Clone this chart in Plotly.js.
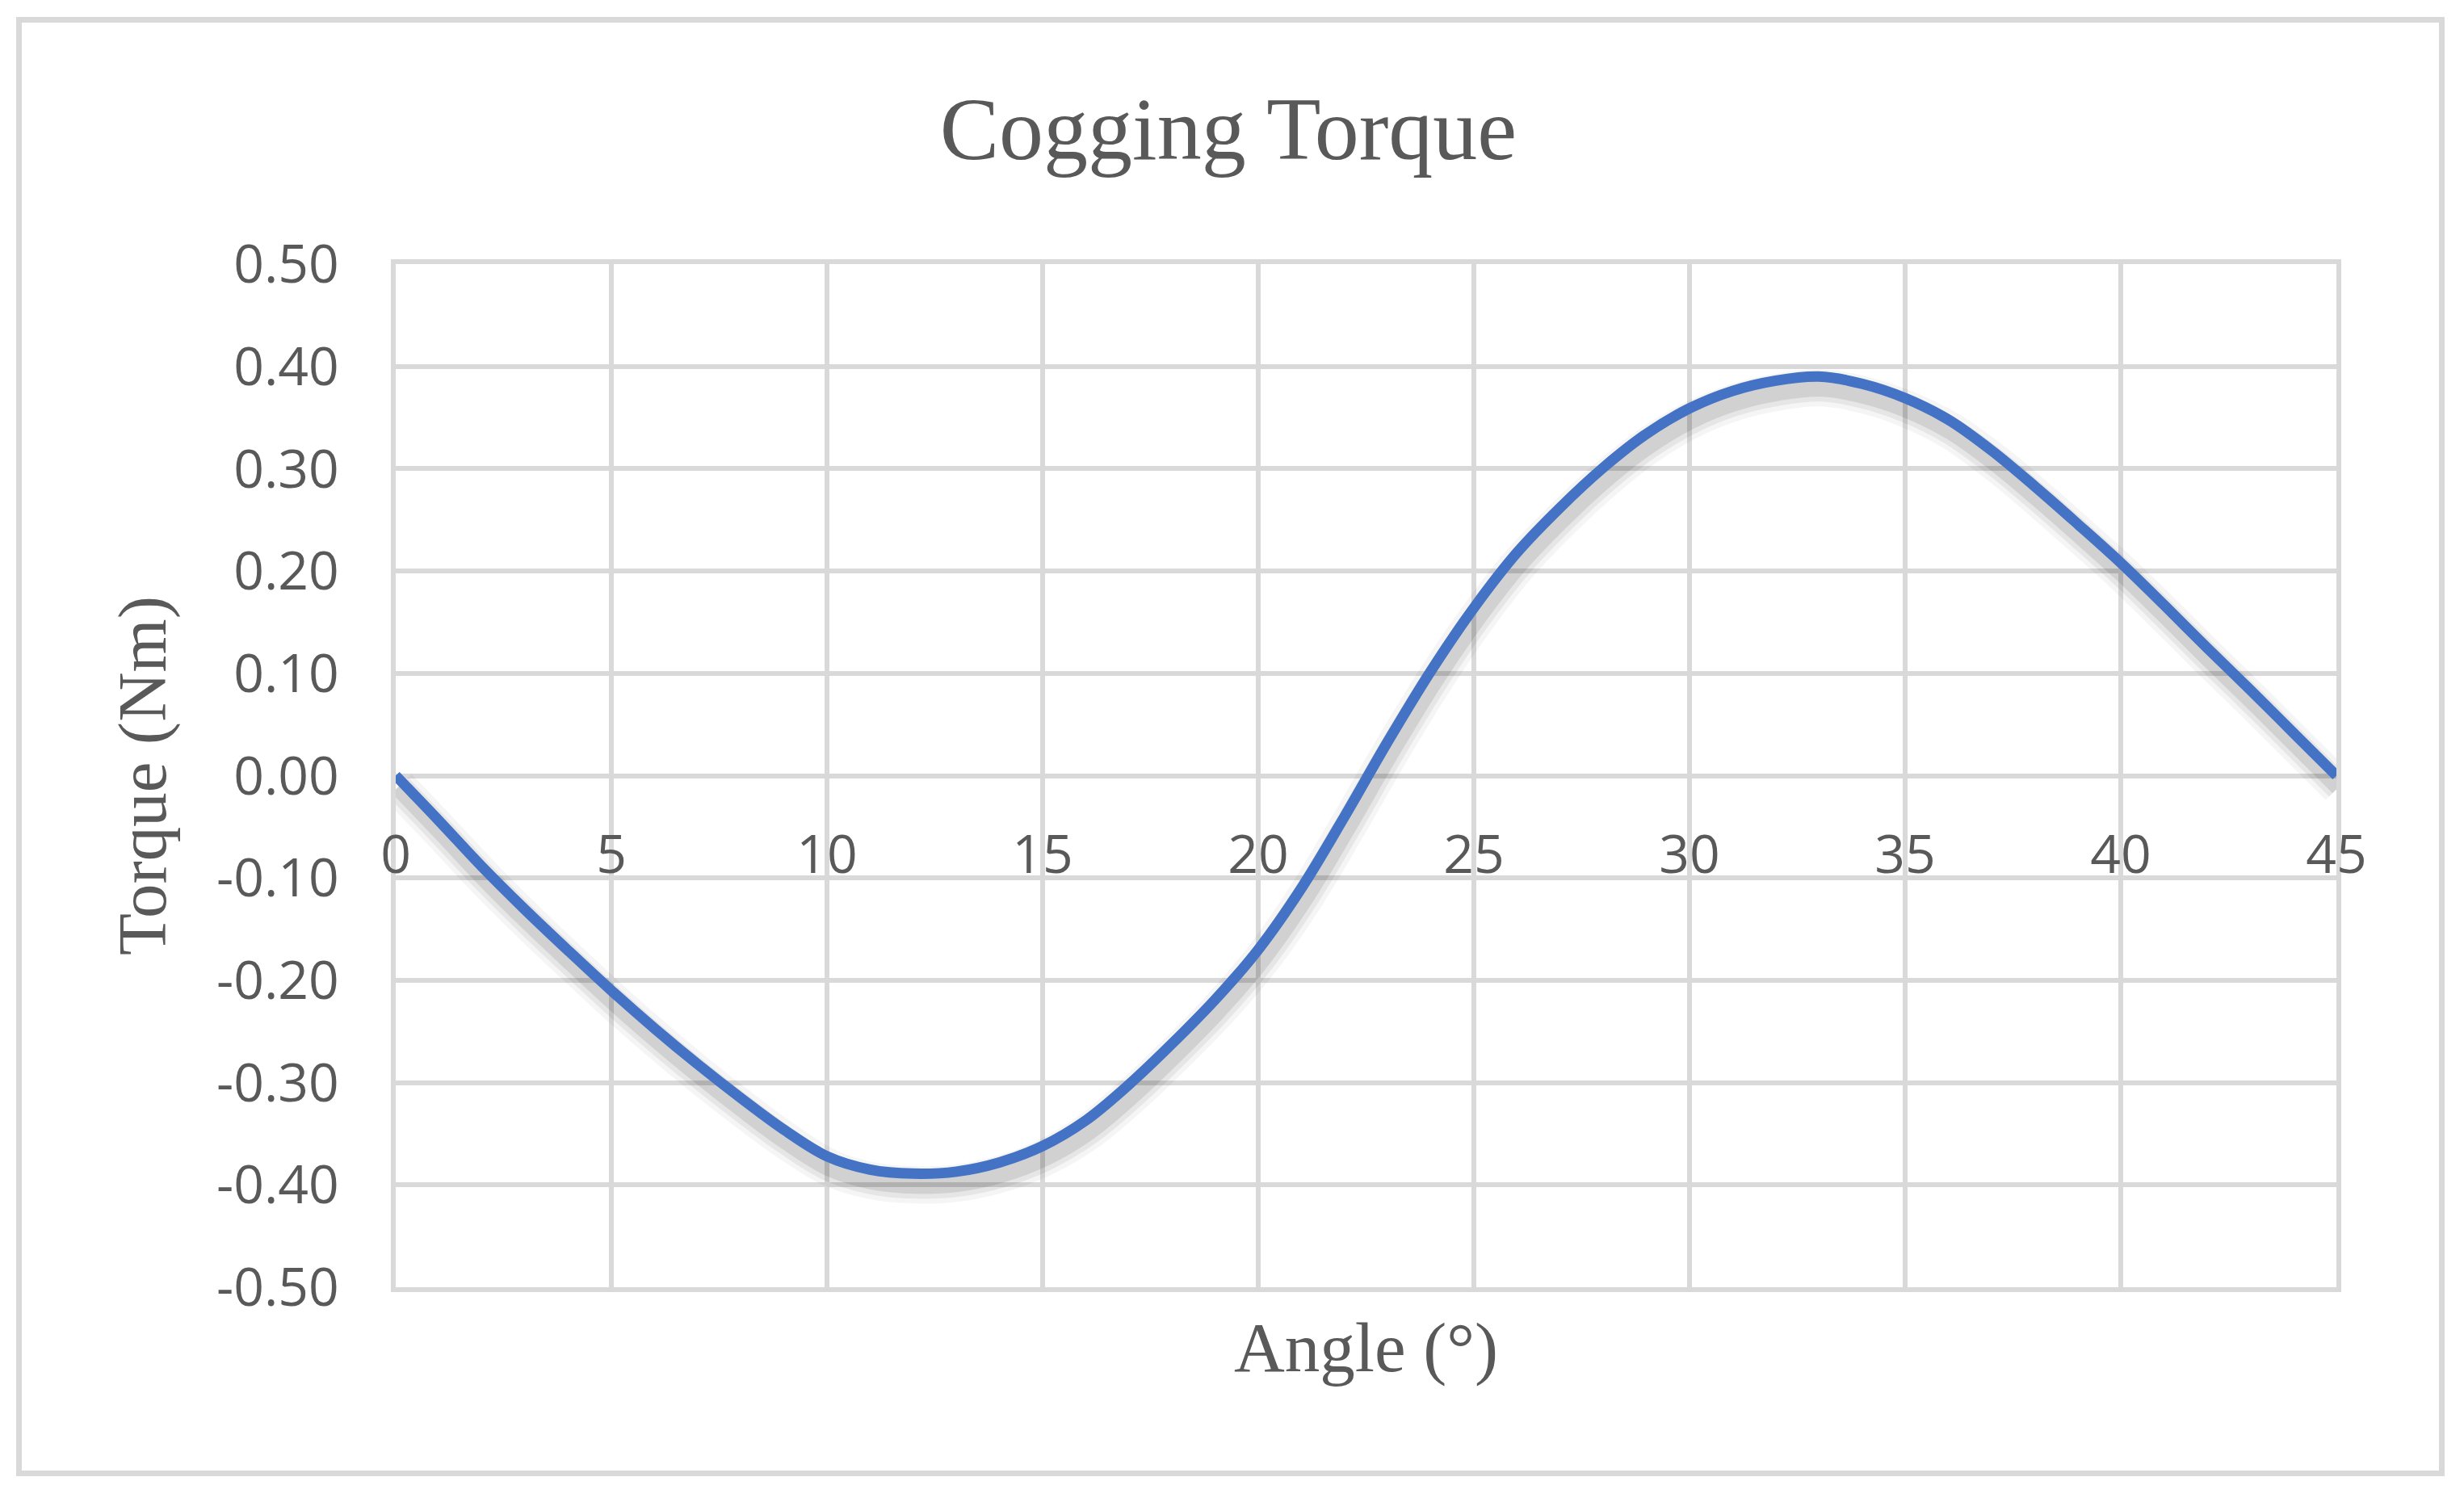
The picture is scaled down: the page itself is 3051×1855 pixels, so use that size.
<!DOCTYPE html>
<html>
<head>
<meta charset="utf-8">
<script src="https://cdn.plot.ly/plotly-3.0.1.min.js"></script>
<style>
  html, body { margin: 0; padding: 0; background: #ffffff; }
  #wrap { position: relative; width: 3051px; height: 1855px; }
  #chart { position: absolute; left: 0; top: 0; width: 3051px; height: 1855px; }
  #frame { position: absolute; left: 20px; top: 21px; width: 2993px; height: 1793px;
           border: 7px solid #d9d9d9; pointer-events: none; }
</style>
</head>
<body>
<div id="wrap">
  <div id="chart"></div>
  <div id="frame"></div>
</div>
<script>
// ---- data ----
const angleDeg = [0,1,2,3,4,5,6,7,8,9,10,11,12,13,14,15,16,17,18,19,20,21,22,23,24,25,26,27,28,29,30,31,32,33,34,35,36,37,38,39,40,41,42,43,44,45];
const torqueNm = [0.000,-0.044,-0.089,-0.131,-0.171,-0.210,-0.247,-0.282,-0.315,-0.346,-0.372,-0.385,-0.389,-0.387,-0.378,-0.362,-0.337,-0.302,-0.262,-0.219,-0.170,-0.110,-0.040,0.033,0.102,0.164,0.218,0.262,0.301,0.334,0.359,0.376,0.386,0.390,0.383,0.369,0.348,0.318,0.283,0.246,0.208,0.167,0.125,0.084,0.042,0.000];
const xTicks = [0,5,10,15,20,25,30,35,40,45];
const yTicks = [-0.5,-0.4,-0.3,-0.2,-0.1,0,0.1,0.2,0.3,0.4,0.5];
const yTickText = ['-0.50','-0.40','-0.30','-0.20','-0.10','0.00','0.10','0.20','0.30','0.40','0.50'];
const chartTitle = 'Cogging Torque';
const xTitle = 'Angle (°)';
const yTitle = 'Torque (Nm)';

// ---- styling ----
const W = 3051, H = 1855;
const M = {l: 490, r: 158, t: 327, b: 261};
const plotW = W - M.l - M.r, plotH = H - M.t - M.b;
const xRange = [0, 45], yRange = [-0.5, 0.5];
const grid = '#d9d9d9', txt = '#595959', lineCol = '#4472C4';
const tickFont = {family: 'Open Sans, Noto Sans, sans-serif', size: 66, color: txt};
const serif = 'Liberation Serif, Times New Roman, serif';

// shadow offset (pixels) expressed through shifted axis ranges
const shDx = 3, shDy = 14;
const dxu = shDx / plotW * (xRange[1] - xRange[0]);
const dyu = shDy / plotH * (yRange[1] - yRange[0]);

const shadowLayers = [
  {w: 46, c: 'rgba(0,0,0,0.04)'},
  {w: 34, c: 'rgba(0,0,0,0.06)'},
  {w: 22, c: 'rgba(0,0,0,0.09)'}
];
const traces = shadowLayers.map(s => ({
  x: angleDeg, y: torqueNm, type: 'scatter', mode: 'lines',
  xaxis: 'x', yaxis: 'y', hoverinfo: 'skip', showlegend: false,
  line: {color: s.c, width: s.w, shape: 'spline', smoothing: 1}
}));
// main series
traces.push({
  x: angleDeg, y: torqueNm, type: 'scatter', mode: 'lines',
  xaxis: 'x2', yaxis: 'y2', showlegend: false,
  line: {color: lineCol, width: 13, shape: 'spline', smoothing: 1}
});
// transparent copy that carries the crossing x axis (labels at y = 0) and the y title axis
traces.push({
  x: angleDeg, y: torqueNm, type: 'scatter', mode: 'lines',
  xaxis: 'x3', yaxis: 'y3', showlegend: false, hoverinfo: 'skip',
  line: {color: 'rgba(0,0,0,0)', width: 1}
});

const layout = {
  width: W, height: H,
  margin: M,
  paper_bgcolor: '#ffffff', plot_bgcolor: 'rgba(0,0,0,0)',
  showlegend: false,
  title: {
    text: chartTitle, font: {family: serif, size: 110, color: txt},
    x: 0.4985, xanchor: 'center', xref: 'container',
    y: 1 - 158 / H, yanchor: 'middle', yref: 'container'
  },
  // base subplot: shifted ranges carry the drop shadow
  xaxis: {range: [xRange[0] - dxu, xRange[1] - dxu], visible: false, fixedrange: true},
  yaxis: {range: [yRange[0] + dyu, yRange[1] + dyu], visible: false, fixedrange: true},
  // grid / frame / x title
  xaxis2: {
    overlaying: 'x', anchor: 'y2', side: 'bottom',
    range: xRange, tickvals: xTicks, ticks: '', showticklabels: false,
    showgrid: true, gridcolor: grid, gridwidth: 6, zeroline: false,
    showline: true, linecolor: grid, linewidth: 6, mirror: true,
    title: {text: xTitle, font: {family: serif, size: 87, color: txt}, standoff: 40}
  },
  yaxis2: {
    overlaying: 'y', anchor: 'x2', side: 'left',
    range: yRange, tickvals: yTicks, ticktext: yTickText, ticks: '',
    tickfont: tickFont, ticklabelstandoff: 51,
    showgrid: true, gridcolor: grid, gridwidth: 6, zeroline: false,
    showline: true, linecolor: grid, linewidth: 6, mirror: true
  },
  // horizontal axis crossing at 0: carries the category labels
  xaxis3: {
    overlaying: 'x', anchor: 'free', position: 0.5,
    range: xRange, tickvals: xTicks, ticks: '',
    tickfont: tickFont, ticklabelstandoff: 53,
    showgrid: false, zeroline: false, showline: false
  },
  yaxis3: {
    overlaying: 'y', anchor: 'free', position: 0, side: 'left',
    range: yRange, showticklabels: false, ticks: '',
    showgrid: false, zeroline: false, showline: false,
    title: {text: yTitle, font: {family: serif, size: 85, color: txt}, standoff: 255}
  }
};

Plotly.newPlot('chart', traces, layout, {staticPlot: true, displayModeBar: false});
</script>
</body>
</html>
